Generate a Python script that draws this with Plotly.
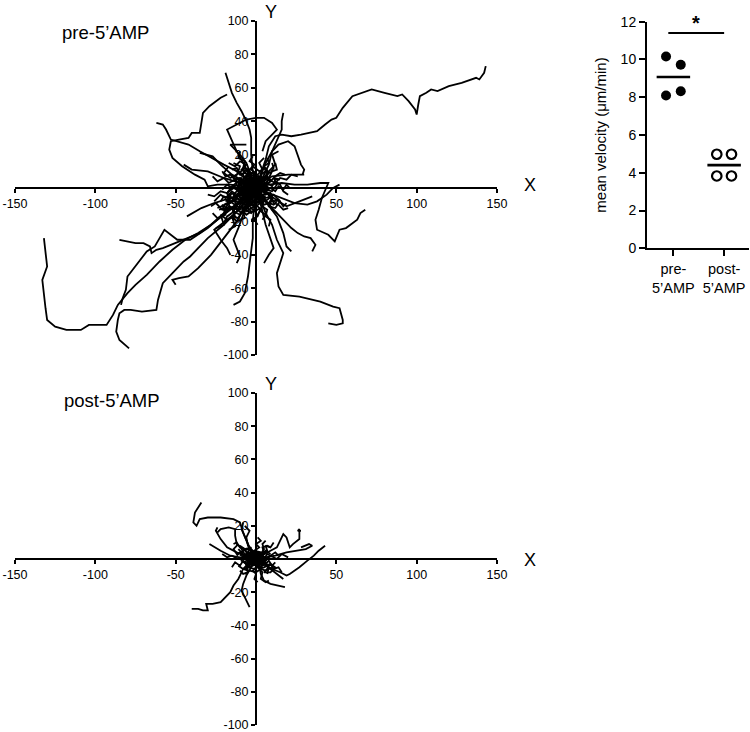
import plotly.graph_objects as go

# ---------------- DATA ----------------
# Cell tracks, pre-5'AMP (µm, all start at origin)
PRE_T01_X = [0, 3, 6, 8, 12, 16, 22, 28, 38, 43, 47, 50, 54, 60, 66, 72, 80, 88, 91, 95, 99, 100, 101, 102, 106, 109, 113, 120, 128, 137, 139, 142, 143]
PRE_T01_Y = [0, 8, 17, 25, 31, 32, 31, 32, 34, 38, 41, 42, 48, 55, 57, 59, 57, 55, 56, 52, 47, 44, 50, 55, 57, 59, 58, 61, 63, 66, 65, 69, 73]
PRE_T02_X = [0, -6, -12, -20, -28, -36, -44, -52, -60, -68, -75, -80, -86, -89, -93, -100, -104, -109, -118, -125, -130, -131, -132, -133, -130, -131, -132]
PRE_T02_Y = [0, -6, -10, -16, -22, -27, -31, -37, -44, -52, -58, -63, -70, -76, -82, -82, -82, -85, -85, -83, -79, -72, -63, -55, -47, -39, -30]
PRE_T03_X = [0, -5, -10, -20, -30, -41, -45, -52, -58, -61, -62, -71, -78, -82, -85, -86, -87, -85, -79]
PRE_T03_Y = [0, -6, -12, -22, -30, -41, -44, -51, -57, -67, -73, -74, -73, -73, -75, -79, -86, -91, -96]
PRE_T04_X = [0, -5, -12, -20, -28, -35, -40, -45, -52, -58, -62, -65, -66, -70, -75, -80, -85]
PRE_T04_Y = [0, -4, -10, -15, -22, -27, -29, -31, -34, -36, -37, -39, -35, -33, -33, -32, -31]
PRE_T05_X = [0, -8, -18, -30, -41, -49, -53, -57, -60, -63, -68, -72, -76, -80, -81, -83, -84]
PRE_T05_Y = [0, -6, -14, -24, -31, -31, -28, -25, -30, -35, -38, -43, -48, -53, -61, -66, -70]
PRE_T06_X = [0, -6, -12, -20, -28, -36, -42, -48, -52, -50]
PRE_T06_Y = [0, -10, -20, -30, -40, -48, -53, -54, -55, -58]
PRE_T07_X = [0, -8, -16, -24, -30, -32, -38, -46, -52, -54, -53, -48, -42, -40, -35, -34, -33, -29, -22, -18]
PRE_T07_Y = [0, 1, 2, 2, 1, 5, 8, 13, 18, 23, 28, 29, 30, 33, 33, 39, 45, 49, 54, 56]
PRE_T08_X = [0, -6, -12, -20, -28, -35, -42, -50, -53, -56, -58, -62]
PRE_T08_Y = [0, 5, 10, 14, 18, 22, 26, 28, 29, 35, 38, 39]
PRE_T09_X = [0, -8, -15, -22, -27, -35]
PRE_T09_Y = [0, 4, 8, 14, 19, 21]
PRE_T10_X = [0, -2, -3, -3, -4, -6, -9, -12, -15, -17, -19]
PRE_T10_Y = [0, 10, 20, 30, 35, 40, 46, 51, 57, 63, 69]
PRE_T11_X = [0, -4, -8, -12, -16, -18, -12, -6, 0, 5, 10, 13, 10, 6, 4]
PRE_T11_Y = [0, 8, 15, 22, 30, 35, 38, 41, 42, 42, 39, 35, 32, 28, 22]
PRE_T12_X = [0, 3, 6, 10, 14, 16, 16, 17]
PRE_T12_Y = [0, 8, 15, 22, 30, 35, 40, 45]
PRE_T13_X = [0, 4, 8, 10, 14, 20, 24, 26, 28, 30, 29]
PRE_T13_Y = [0, 6, 14, 22, 26, 28, 25, 20, 14, 11, 8]
PRE_T14_X = [0, 5, 10, 20, 30]
PRE_T14_Y = [0, 4, 7, 8, 8]
PRE_T15_X = [0, 8, 16, 24, 32, 38, 44, 48, 52]
PRE_T15_Y = [0, -3, -6, -9, -10, -8, -4, 0, 2]
PRE_T16_X = [0, 8, 16, 24, 32, 40, 45, 41, 39, 37, 38, 45, 49, 52, 56, 63, 65, 68]
PRE_T16_Y = [0, 2, 3, 2, 2, 3, 3, -6, -13, -19, -25, -28, -32, -25, -24, -19, -15, -13]
PRE_T17_X = [0, 3, 6, 10, 13, 17, 15, 13, 14, 17, 27, 40, 48, 52, 54, 54, 50, 45]
PRE_T17_Y = [0, -8, -15, -22, -31, -39, -45, -51, -59, -64, -65, -68, -71, -72, -79, -81, -82, -81]
PRE_T18_X = [0, 5, 10, 16, 22, 26, 30, 34, 37, 35]
PRE_T18_Y = [0, -6, -12, -18, -24, -27, -29, -30, -34, -38]
PRE_T19_X = [0, -1, -2, -2, -3, -4, -5, -7, -10, -14]
PRE_T19_Y = [0, -10, -20, -30, -39, -47, -53, -63, -68, -70]
PRE_T20_X = [0, 3, 6, 9, 11, 8, 5]
PRE_T20_Y = [0, -10, -22, -30, -36, -40, -45]
PRE_T21_X = [0, -8, -16, -26, -34, -43]
PRE_T21_Y = [0, -3, -6, -9, -12, -17]
PRE_T22_X = [0, -3, -6, -10, -14, -16, -10, -6]
PRE_T22_Y = [0, 8, 15, 20, 24, 26, 26, 26]
PRE_T23_X = [0, -4, -8, -11, -14, -12, -10, -12]
PRE_T23_Y = [0, -8, -16, -24, -31, -36, -41, -45]
PRE_T24_X = [0, -6, -14, -22, -26, -22, -18, -16]
PRE_T24_Y = [0, -8, -16, -22, -25, -31, -36, -40]
PRE_T25_X = [0, 8, 14, 19, 27, 35]
PRE_T25_Y = [0, -4, -8, -11, -8, -5]
PRE_T26_X = [0, 4, 9, 13, 17, 19, 22]
PRE_T26_Y = [0, -6, -12, -17, -27, -35, -38]
PRE_T27_X = [0, -10, -20, -30, -40, -45]
PRE_T27_Y = [0, 3, 6, 10, 11, 14]
PRE_T28_X = [0, 4, 8, 12, 10, 14]
PRE_T28_Y = [0, 5, 10, 14, 20, 22]
# dense central cluster (pre)
PRE_C01_X = [0, -3, -5, -8, -7, -10, -12, -14, -11, -13]
PRE_C01_Y = [0, 2, -1, 1, 4, 5, 3, 6, 9, 11]
PRE_C02_X = [0, 2, 5, 6, 9, 10, 8, 11, 13]
PRE_C02_Y = [0, -3, -1, -4, -3, -6, -9, -10, -8]
PRE_C03_X = [0, -2, 1, -1, -4, -5, -3, -6, -8]
PRE_C03_Y = [0, -4, -6, -9, -8, -12, -14, -16, -14]
PRE_C04_X = [0, 3, 2, 5, 7, 6, 9, 11, 10]
PRE_C04_Y = [0, 2, 5, 4, 7, 10, 9, 12, 15]
PRE_C05_X = [0, -4, -6, -9, -12, -15, -17, -20, -22]
PRE_C05_Y = [0, -1, -4, -2, -5, -3, -6, -5, -8]
PRE_C06_X = [0, 1, -2, 0, -3, -1, -4, -2]
PRE_C06_Y = [0, 4, 6, 9, 11, 14, 16, 19]
PRE_C07_X = [0, -1, 2, 0, 3, 1, -1, 1]
PRE_C07_Y = [0, -4, -7, -10, -13, -16, -19, -22]
PRE_C08_X = [0, 4, 6, 9, 12, 14, 17, 19, 21]
PRE_C08_Y = [0, 1, -2, 0, -2, 1, -1, 2, 0]
PRE_C09_X = [0, -4, -7, -9, -13, -16, -19, -21]
PRE_C09_Y = [0, 3, 2, 6, 5, 8, 7, 10]
PRE_C10_X = [0, 2, 5, 4, 7, 6, 9, 8]
PRE_C10_Y = [0, -5, -7, -11, -13, -17, -19, -23]
PRE_C11_X = [0, -3, -6, -8, -11, -10, -14]
PRE_C11_Y = [0, 5, 4, 8, 10, 13, 15]
PRE_C12_X = [0, 4, 5, 8, 10, 13, 12]
PRE_C12_Y = [0, 3, 7, 6, 10, 11, 15]
PRE_C13_X = [0, -5, -8, -11, -14, -17, -19, -23]
PRE_C13_Y = [0, -2, -5, -4, -8, -9, -12, -13]
PRE_C14_X = [0, 2, -1, -4, -6, -3, -6, -8]
PRE_C14_Y = [0, 3, 5, 3, 6, 9, 11, 9]
PRE_C15_X = [0, 3, 6, 9, 11, 14, 17, 20]
PRE_C15_Y = [0, -3, -6, -5, -9, -10, -13, -12]
PRE_C16_X = [0, -2, -5, -8, -11, -14, -12, -16]
PRE_C16_Y = [0, -3, 0, -3, -1, -4, -7, -8]
PRE_C17_X = [0, 1, 4, 3, 6, 5, 8, 7]
PRE_C17_Y = [0, 3, 5, 8, 10, 13, 15, 18]
PRE_C18_X = [0, -3, -2, -6, -5, -9, -11, -14]
PRE_C18_Y = [0, -2, -6, -8, -12, -14, -18, -17]
PRE_C19_X = [0, 3, 5, 8, 11, 14, 17, 19]
PRE_C19_Y = [0, 1, -3, -4, -8, -7, -11, -9]
PRE_C20_X = [0, -4, -3, -7, -10, -12, -15]
PRE_C20_Y = [0, 3, 7, 9, 8, 12, 11]
PRE_C21_X = [0, 2, -1, 2, 4, 3, 6, 4]
PRE_C21_Y = [0, -2, -5, -7, -10, -14, -16, -19]
PRE_C22_X = [0, -3, -5, -7, -10, -12, -15, -18, -21]
PRE_C22_Y = [0, 1, -2, 1, -1, 2, 0, 2, -1]
PRE_C23_X = [0, 3, 1, 4, 2, 5]
PRE_C23_Y = [0, 4, 8, 11, 15, 18]
PRE_C24_X = [0, -5, -7, -11, -13, -17, -20]
PRE_C24_Y = [0, -3, -7, -8, -12, -11, -15]
PRE_C25_X = [0, 5, 8, 12, 15, 19, 22, 26]
PRE_C25_Y = [0, 2, 5, 3, 6, 5, 8, 7]
PRE_C26_X = [0, -2, -6, -9, -7, -10, -13, -16, -19, -24]
PRE_C26_Y = [0, 2, 1, -2, -5, -7, -5, -9, -10, -12]
PRE_C27_X = [0, 3, 1, -2, -4, -2, -6, -9, -12]
PRE_C27_Y = [0, -1, -4, -2, -5, -8, -10, -9, -13]
PRE_C28_X = [0, -1, -4, -7, -10, -13, -17, -20, -24, -27]
PRE_C28_Y = [0, 3, 1, 4, 2, 5, 3, 6, 4, 7]
PRE_C29_X = [0, 2, 5, 7, 10, 12, 15, 17, 20]
PRE_C29_Y = [0, 2, 0, 3, 1, 4, 2, -2, -4]
PRE_C30_X = [0, -3, -6, -5, -8, -12, -15, -18, -20]
PRE_C30_Y = [0, -4, -6, -10, -12, -11, -15, -17, -21]
PRE_C31_X = [0, -6, -10, -14, -18, -22, -26, -30]
PRE_C31_Y = [0, 2, -1, 1, -3, -2, -5, -4]
PRE_C32_X = [0, 1, 4, 2, 5, 8, 10, 13]
PRE_C32_Y = [0, -3, -5, -8, -10, -9, -13, -15]
PRE_C33_X = [0, -2, -5, -4, -8, -7, -11, -10]
PRE_C33_Y = [0, 5, 7, 11, 12, 16, 18, 22]
PRE_C34_X = [0, 4, 3, 7, 9, 12, 15, 18]
PRE_C34_Y = [0, 2, 5, 6, 4, 7, 9, 8]
PRE_C35_X = [0, -4, -8, -12, -15, -19, -22, -26]
PRE_C35_Y = [0, -2, 0, -4, -2, -6, -4, -8]
# tortuous tracks that stay near the origin (pre)
PRE_D01_X = [0, -4, -6, -2, 3, 5, 1, -5, -9, -8]
PRE_D01_Y = [0, 2, -3, -6, -4, 1, 5, 6, 2, -4]
PRE_D02_X = [0, 3, 6, 4, -1, -5, -7, -3, 2, 6]
PRE_D02_Y = [0, -2, 2, 6, 7, 4, -1, -5, -7, -5]
PRE_D03_X = [0, -3, -8, -12, -10, -5, -2, -6, -11, -15]
PRE_D03_Y = [0, -4, -5, -1, 4, 3, -2, -8, -9, -6]
PRE_D04_X = [0, 2, -2, -6, -4, 1, 4, 0, -5, -9]
PRE_D04_Y = [0, 4, 6, 3, -2, -4, -8, -11, -10, -13]
PRE_D05_X = [0, -5, -9, -6, -1, 3, -1, -6, -10, -14]
PRE_D05_Y = [0, 1, -3, -7, -9, -5, -1, 2, 6, 4]
PRE_D06_X = [0, 4, 8, 5, 1, -3, -1, 4, 7, 10]
PRE_D06_Y = [0, 3, 0, -4, -6, -3, 2, 4, 7, 4]
PRE_D07_X = [0, -2, -6, -9, -7, -11, -15, -18, -16, -20]
PRE_D07_Y = [0, -5, -7, -3, 2, 4, 1, -3, -8, -10]
PRE_D08_X = [0, 1, -3, -7, -5, -9, -13, -10, -6, -8]
PRE_D08_Y = [0, -6, -9, -7, -12, -15, -12, -8, -11, -16]
PRE_D09_X = [0, -6, -10, -7, -3, -8, -12, -16, -20, -17]
PRE_D09_Y = [0, -2, 2, 6, 9, 11, 8, 6, 9, 13]
PRE_D10_X = [0, 3, 7, 10, 8, 12, 15, 11, 7, 3]
PRE_D10_Y = [0, -5, -3, -7, -11, -12, -8, -4, -7, -9]
PRE_D11_X = [0, -3, -1, -5, -8, -4, -7, -11, -9, -13]
PRE_D11_Y = [0, 3, 7, 9, 5, 2, -2, 0, 4, 6]
PRE_D12_X = [0, 2, 5, 2, -2, -4, -1, 3, 1, -3]
PRE_D12_Y = [0, -3, -6, -9, -7, -11, -14, -12, -17, -19]
PRE_D13_X = [0, -4, -7, -4, 0, -3, -7, -10, -14, -12]
PRE_D13_Y = [0, -2, -6, -9, -12, -15, -13, -16, -14, -10]
PRE_D14_X = [0, 5, 9, 6, 3, 6, 10, 13, 11, 15]
PRE_D14_Y = [0, 1, 4, 7, 4, -1, -2, 2, 6, 5]
PRE_D15_X = [0, -2, 1, -1, -5, -9, -6, -10, -13, -17]
PRE_D15_Y = [0, 3, 5, 9, 8, 11, 14, 16, 13, 15]
PRE_D16_X = [0, -5, -3, -8, -12, -10, -14, -18, -15, -19]
PRE_D16_Y = [0, -3, -7, -9, -6, -2, 0, -3, -6, -8]
PRE_D17_X = [0, 3, 1, 5, 8, 6, 2, -2, -5, -3]
PRE_D17_Y = [0, 2, 6, 5, 9, 12, 10, 13, 10, 6]
PRE_D18_X = [0, -3, -7, -5, -1, 2, -2, -6, -9, -12]
PRE_D18_Y = [0, -1, 1, 5, 3, -2, -5, -3, -6, -4]
PRE_D19_X = [0, -5, -9, -14, -12, -17, -21, -19, -24, -27]
PRE_D19_Y = [0, -4, -2, -6, -11, -13, -10, -16, -18, -15]
PRE_D20_X = [0, -2, -7, -10, -15, -13, -18, -22, -20, -25]
PRE_D20_Y = [0, -6, -8, -13, -12, -17, -19, -16, -22, -24]
PRE_D21_X = [0, -6, -11, -8, -13, -18, -16, -21, -25, -28]
PRE_D21_Y = [0, -1, -4, -9, -10, -7, -12, -13, -9, -11]
PRE_D22_X = [0, -4, -1, -6, -9, -7, -12, -15, -13, -17]
PRE_D22_Y = [0, -7, -11, -14, -10, -18, -20, -17, -23, -25]

# Cell tracks, post-5'AMP
POST_T01_X = [0, -2, -5, -8, -10, -14, -22, -30, -35, -37, -39, -38, -34]
POST_T01_Y = [0, 3, 9, 16, 22, 24, 25, 25, 24, 20, 22, 28, 34]
POST_T02_X = [0, -4, -8, -11, -14, -16, -22, -27, -31, -30, -33, -36, -38, -40]
POST_T02_Y = [0, -2, -6, -12, -16, -20, -26, -27, -27, -31, -31, -30, -30, -30]
POST_T03_X = [0, -3, -6, -8, -9, -7, -5, -4]
POST_T03_Y = [0, -5, -10, -15, -19, -23, -27, -29]
POST_T04_X = [0, 5, 10, 15, 19, 21, 27, 32, 36, 39, 43]
POST_T04_Y = [0, -3, -6, -8, -10, -9, -5, -1, 2, 5, 8]
POST_T05_X = [0, 5, 9, 13, 15, 17, 19, 21, 23, 27, 27, 26, 28]
POST_T05_Y = [0, 3, 5, 7, 11, 15, 13, 7, 9, 12, 18, 17, 17]
POST_T06_X = [0, 2, 3, 5, 9, 14, 18]
POST_T06_Y = [0, -4, -9, -13, -15, -16, -17]
POST_T07_X = [0, 5, 9, 13, 17]
POST_T07_Y = [0, -3, -6, -9, -12]
POST_T08_X = [0, -5, -10, -16, -22, -27, -29]
POST_T08_Y = [0, 1, 1, 2, 5, 8, 9]
POST_T09_X = [0, -6, -12, -18, -22, -25, -24]
POST_T09_Y = [0, 2, 4, 7, 12, 17, 19]
POST_T10_X = [0, -4, -8, -12, -13, -13, -17, -22, -24]
POST_T10_Y = [0, 3, 6, 9, 14, 18, 19, 18, 16]
POST_T11_X = [0, -3, -5, -7, -9, -8]
POST_T11_Y = [0, 4, 9, 14, 18, 22]
POST_T12_X = [0, 6, 12, 19, 25, 31, 35, 33, 28]
POST_T12_Y = [0, 1, 2, 4, 5, 6, 8, 9, 7]
# dense central cluster (post)
POST_C01_X = [0, -2, -4, -6, -8, -10, -12]
POST_C01_Y = [0, 2, 0, 3, 1, 4, 2]
POST_C02_X = [0, 2, 4, 6, 8, 10, 12]
POST_C02_Y = [0, -2, 0, -3, -1, -4, -2]
POST_C03_X = [0, 1, -1, 2, 0, 3, 1]
POST_C03_Y = [0, 3, 5, 7, 9, 11, 13]
POST_C04_X = [0, -1, 1, -2, 0, -1, 1]
POST_C04_Y = [0, -3, -5, -7, -9, -12, -14]
POST_C05_X = [0, 3, 5, 7, 9, 12, 14]
POST_C05_Y = [0, 2, 0, 3, 2, 4, 2]
POST_C06_X = [0, -3, -5, -8, -10, -13, -15]
POST_C06_Y = [0, -1, -3, -1, -4, -2, -5]
POST_C07_X = [0, 2, 5, 4, 7, 9, 11]
POST_C07_Y = [0, 3, 4, 7, 8, 7, 10]
POST_C08_X = [0, -2, -4, -6, -5, -8, -10]
POST_C08_Y = [0, -3, -2, -5, -8, -9, -7]
POST_C09_X = [0, 4, 6, 9, 11, 14, 16]
POST_C09_Y = [0, -1, -4, -3, -6, -5, -8]
POST_C10_X = [0, -3, -6, -7, -10, -12, -14]
POST_C10_Y = [0, 2, 4, 6, 7, 10, 9]
POST_C11_X = [0, 1, 3, 4, 6, 8, 11]
POST_C11_Y = [0, -2, -1, -4, -3, -6, -5]
POST_C12_X = [0, -1, 1, 3, 5, 4, 6]
POST_C12_Y = [0, 2, 4, 3, 6, 9, 11]
POST_C13_X = [0, -4, -7, -11, -15, -18, -21]
POST_C13_Y = [0, 0, 2, 0, 2, 1, 3]
POST_C14_X = [0, 2, 6, 9, 13, 16, 20]
POST_C14_Y = [0, 1, -1, 2, 0, 3, 1]
POST_C15_X = [0, 0, 2, 4, 3, 6, 8]
POST_C15_Y = [0, -3, -6, -8, -12, -14, -13]
POST_C16_X = [0, -2, -5, -6, -4, -7]
POST_C16_Y = [0, 5, 8, 13, 17, 20]
POST_C17_X = [0, -3, -1, -4, -6, -5, -8]
POST_C17_Y = [0, -1, -3, -5, -3, -7, -6]
POST_C18_X = [0, 3, 2, 5, 7, 6, 9]
POST_C18_Y = [0, 1, 4, 3, 5, 8, 7]
POST_C19_X = [0, -2, -5, -3, -6, -9, -11]
POST_C19_Y = [0, 3, 2, 5, 6, 4, 6]
POST_C20_X = [0, 2, 4, 3, 6, 8, 7]
POST_C20_Y = [0, -3, -2, -6, -7, -5, -9]
POST_D01_X = [0, -3, -5, -2, 2, 4, 1, -3, -6, -5]
POST_D01_Y = [0, 1, -2, -4, -3, 1, 3, 4, 1, -3]
POST_D02_X = [0, 2, 5, 3, -1, -4, -5, -2, 2, 5]
POST_D02_Y = [0, -2, 1, 4, 5, 3, -1, -3, -5, -3]
POST_D03_X = [0, -3, -6, -9, -7, -4, -2, -5, -8, -11]
POST_D03_Y = [0, -3, -3, -1, 3, 2, -2, -5, -6, -4]
POST_D04_X = [0, 2, -1, -4, -3, 1, 3, 0, -4, -7]
POST_D04_Y = [0, 3, 4, 2, -2, -3, -6, -8, -7, -9]
POST_D05_X = [0, 4, 7, 4, 1, -2, 0, 4, 6, 9]
POST_D05_Y = [0, 2, 0, -3, -4, -2, 2, 3, 5, 3]
POST_D06_X = [0, -4, -7, -5, -1, 2, -1, -5, -8, -10]
POST_D06_Y = [0, 1, -2, -5, -6, -3, -1, 1, 4, 2]
POST_D07_X = [0, 3, 6, 8, 5, 9, 12, 9, 5, 2]
POST_D07_Y = [0, -3, -2, -5, -8, -8, -5, -3, -5, -6]
POST_D08_X = [0, -2, -5, -3, -7, -10, -8, -12, -14, -11]
POST_D08_Y = [0, 2, 4, 7, 6, 8, 4, 3, 6, 9]

# Mean velocity dot plot
GROUPS = ["pre-<br>5’AMP", "post-<br>5’AMP"]
PRE_VELOCITY = [10.16, 9.72, 8.09, 8.32]
POST_VELOCITY = [4.98, 4.98, 3.83, 3.83]
SIG_BAR_VALUE = 11.4

SPIDER_X_TICKS = [-150, -100, -50, 50, 100, 150]
SPIDER_Y_TICKS = [-100, -80, -60, -40, -20, 20, 40, 60, 80, 100]
VEL_Y_TICKS = [0, 2, 4, 6, 8, 10, 12]

# ---------------- FIGURE ----------------
W, H = 750, 732
FONT = "Arial, Liberation Sans, sans-serif"

g = globals()
pre_tracks = [(g[n], g[n[:-1] + "Y"]) for n in sorted(g) if n.startswith("PRE_") and n.endswith("_X")]
post_tracks = [(g[n], g[n[:-1] + "Y"]) for n in sorted(g) if n.startswith("POST_") and n.endswith("_X")]

fig = go.Figure()
LINE = dict(color="black", width=1.8)
for xs, ys in pre_tracks:
    fig.add_trace(go.Scatter(x=xs, y=ys, mode="lines", line=LINE, xaxis="x", yaxis="y",
                             showlegend=False, hoverinfo="skip"))
for xs, ys in post_tracks:
    fig.add_trace(go.Scatter(x=xs, y=ys, mode="lines", line=LINE, xaxis="x2", yaxis="y2",
                             showlegend=False, hoverinfo="skip"))

# dot plot
jit = [-0.145, 0.145, -0.145, 0.145]
fig.add_trace(go.Scatter(x=[0 + j for j in jit], y=PRE_VELOCITY, mode="markers",
                         marker=dict(symbol="circle", size=10, color="black"),
                         xaxis="x3", yaxis="y3", showlegend=False))
fig.add_trace(go.Scatter(x=[1 + j for j in jit], y=POST_VELOCITY, mode="markers",
                         marker=dict(symbol="circle-open", size=9.5, color="black", line=dict(width=2.2)),
                         xaxis="x3", yaxis="y3", showlegend=False))
for i, vals in enumerate([PRE_VELOCITY, POST_VELOCITY]):
    m = sum(vals) / len(vals)
    fig.add_trace(go.Scatter(x=[i - 0.33, i + 0.33], y=[m, m], mode="lines",
                             line=dict(color="black", width=2.6),
                             xaxis="x3", yaxis="y3", showlegend=False))
fig.add_trace(go.Scatter(x=[-0.1, 1.0], y=[SIG_BAR_VALUE, SIG_BAR_VALUE], mode="lines",
                         line=dict(color="black", width=2), xaxis="x3", yaxis="y3",
                         showlegend=False))

def px_x(p):
    return p / W

def px_y(p):
    return 1 - p / H

spider_ax = dict(showgrid=False, zeroline=False, showline=True, linecolor="black", linewidth=2,
                 ticks="outside", ticklen=4, tickwidth=1.5, tickcolor="black", automargin=False,
                 ticklabeloverflow="allow",
                 tickfont=dict(family=FONT, size=12.5, color="black"), anchor="free")

fig.update_layout(
    template="none",
    width=W, height=H, autosize=False,
    margin=dict(l=0, r=0, t=0, b=0, pad=0),
    paper_bgcolor="white", plot_bgcolor="rgba(0,0,0,0)",
    font=dict(family=FONT, color="black"),
    xaxis=dict(spider_ax, domain=[px_x(15), px_x(497)], range=[-150, 150],
               tickvals=SPIDER_X_TICKS, ticktext=[str(v) for v in SPIDER_X_TICKS],
               position=px_y(188)),
    yaxis=dict(spider_ax, domain=[px_y(355), px_y(21)], range=[-100, 100],
               tickvals=SPIDER_Y_TICKS, ticktext=[str(v) for v in SPIDER_Y_TICKS],
               position=px_x(256)),
    xaxis2=dict(spider_ax, domain=[px_x(15), px_x(497)], range=[-150, 150],
                tickvals=SPIDER_X_TICKS, ticktext=[str(v) for v in SPIDER_X_TICKS],
                position=px_y(559)),
    yaxis2=dict(spider_ax, domain=[px_y(725), px_y(393)], range=[-100, 100],
                tickvals=SPIDER_Y_TICKS, ticktext=[str(v) for v in SPIDER_Y_TICKS],
                position=px_x(256)),
    xaxis3=dict(domain=[px_x(647), px_x(749)], range=[-0.52, 1.49], anchor="y3",
                tickvals=[0, 1], ticktext=GROUPS, showgrid=False, zeroline=False,
                showline=True, linecolor="black", linewidth=2, ticks="outside",
                ticklen=6, tickwidth=2, tickcolor="black", automargin=False,
                ticklabeloverflow="allow",
                tickfont=dict(family=FONT, size=14.5, color="black")),
    yaxis3=dict(domain=[px_y(248.3), px_y(21.7)], range=[0, 12], anchor="x3",
                tickvals=VEL_Y_TICKS, showgrid=False, zeroline=False,
                showline=True, linecolor="black", linewidth=2, ticks="outside",
                ticklen=6, tickwidth=2, tickcolor="black", automargin=False,
                ticklabeloverflow="allow",
                tickfont=dict(family=FONT, size=14, color="black"),
                title=dict(text="mean velocity (μm/min)", standoff=10,
                           font=dict(family=FONT, size=15, color="black"))),
)

ann = [
    dict(text="pre-5’AMP", x=px_x(60), y=px_y(33), xanchor="left", yanchor="middle", font_size=18.5),
    dict(text="post-5’AMP", x=px_x(62), y=px_y(400), xanchor="left", yanchor="middle", font_size=18.5),
    dict(text="Y", x=px_x(271), y=px_y(12), xanchor="center", yanchor="middle", font_size=18),
    dict(text="X", x=px_x(530), y=px_y(185), xanchor="center", yanchor="middle", font_size=18),
    dict(text="Y", x=px_x(271), y=px_y(384), xanchor="center", yanchor="middle", font_size=18),
    dict(text="X", x=px_x(530), y=px_y(560), xanchor="center", yanchor="middle", font_size=18),
]
for a in ann:
    fig.add_annotation(xref="paper", yref="paper", showarrow=False,
                       font=dict(family=FONT, size=a.pop("font_size"), color="black"), **a)
fig.add_annotation(xref="x3", yref="y3", x=0.45, y=11.95, text="<b>*</b>", showarrow=False,
                   font=dict(family=FONT, size=20, color="black"))

# remove the default page margin so the 750x732 figure fills the window exactly
fig.write_html("out.html", config={"displayModeBar": False},
               post_script="document.body.style.margin='0';document.body.style.overflow='hidden';")
